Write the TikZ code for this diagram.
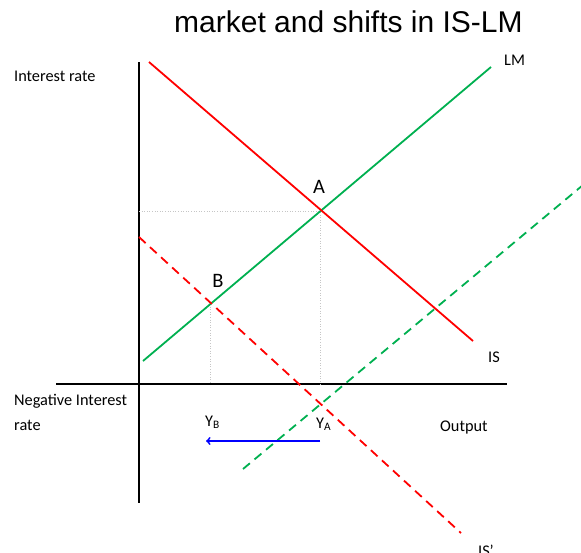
\documentclass[tikz,border=0pt]{standalone}
\usepackage{fontspec}
\setmainfont{Carlito}
\newfontfamily\titlefont{Liberation Sans}
\usepackage{tikz}
\definecolor{rojo}{RGB}{255,0,0}
\definecolor{verde}{RGB}{0,176,80}
\definecolor{azul}{RGB}{0,0,255}

\begin{document}
\begin{tikzpicture}[x=1pt, y=-1pt,
    eje/.style={line width=2.2pt, black},
    curva/.style={line width=1.8pt},
    desplazada/.style={line width=1.8pt, dash pattern=on 9pt off 6pt},
    guia/.style={line width=0.6pt, gray!45, dotted},
    etiqueta/.style={font=\fontsize{16.3}{19}\selectfont, inner sep=0pt, anchor=base west},
    punto/.style={font=\fontsize{20.5}{24}\selectfont, inner sep=0pt}]
                        \useasboundingbox (0,0) rectangle (581,552);

                        % Titulo
                        \node[font=\titlefont\fontsize{30}{34}\selectfont, inner sep=0pt, anchor=base west] (titulo) at (174,32) {market and shifts in IS-LM};

                        % Ejes
                        \coordinate (ejeYtop) at (139,62);
                        \coordinate (ejeYbot) at (139,503);
                        \coordinate (ejeXizq) at (56,384);
                        \coordinate (ejeXder) at (507,384);
                        \draw[eje] (ejeYtop) -- (ejeYbot);
                        \draw[eje] (ejeXizq) -- (ejeXder);

                        % Puntos de equilibrio
                        \coordinate (A) at (320,211);
                        \coordinate (B) at (210,304);
                        \coordinate (YA) at (320,384);
                        \coordinate (YB) at (210,384);
                        \coordinate (rA) at (139,211);

                        % Lineas guia
                        \draw[guia] (rA) -- (A) -- (YA);
                        \draw[guia] (B) -- (YB);

                        % Curva LM
                        \coordinate (LMini) at (143,361);
                        \coordinate (LMfin) at (491,67);
                        \draw[curva, verde] (LMini) -- (LMfin);

                        % Curva IS
                        \coordinate (ISini) at (149,62);
                        \coordinate (ISfin) at (473,341);
                        \draw[curva, rojo] (ISini) -- (ISfin);

                        % Desplazamientos (IS' y LM')
                        \coordinate (ISpini) at (139,237);
                        \coordinate (ISpfin) at (461,533);
                        \draw[desplazada, rojo] (ISpini) -- (ISpfin);
                        \coordinate (LMpini) at (243,469);
                        \coordinate (LMpfin) at (583,185);
                        \draw[desplazada, verde] (LMpini) -- (LMpfin);

                        % Flecha de la produccion
                        \coordinate (flechaIni) at (320,441);
                        \coordinate (flechaFin) at (206,441);
                        \draw[->, line width=1.8pt, azul] (flechaIni) -- (flechaFin);

                        % Etiquetas
                        \node[etiqueta] (tasa) at (14,81) {Interest rate};
                        \node[etiqueta] (negativa) at (14,405) {Negative Interest};
                        \node[etiqueta] (negativa2) at (14,430) {rate};
                        \node[etiqueta] (lblLM) at (504,65) {LM};
                        \node[etiqueta] (lblIS) at (488,362) {IS};
                        \node[etiqueta] (lblISp) at (478,556) {IS'};
                        \node[punto] (lblA) at (319,187) {A};
                        \node[punto] (lblB) at (218,281) {B};
                        \node[etiqueta] (lblYB) at (205,426) {Y\textsubscript{B}};
                        \node[etiqueta] (lblYA) at (316,428) {Y\textsubscript{A}};
                        \node[etiqueta] (salida) at (440,431) {Output};
                    \end{tikzpicture}
\end{document}
